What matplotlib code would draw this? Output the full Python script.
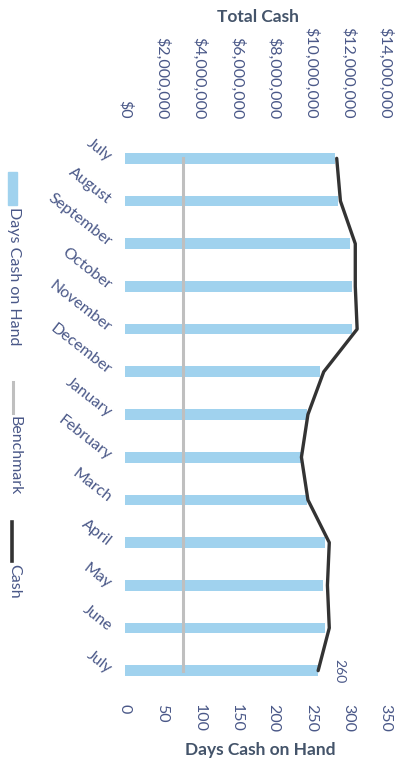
import matplotlib
matplotlib.use("Agg")
import matplotlib.pyplot as plt
from matplotlib.patches import Rectangle
from matplotlib.lines import Line2D

months = ["July", "August", "September", "October", "November", "December",
          "January", "February", "March", "April", "May", "June", "July"]
days_cash = [283, 287, 303, 306, 306, 262, 245, 238, 245, 269, 266, 269, 260]
benchmark = [78] * 13
cash = [11.4e6, 11.6e6, 12.4e6, 12.4e6, 12.5e6, 10.7e6, 9.85e6, 9.5e6,
        9.85e6, 11.0e6, 10.9e6, 11.0e6, 10.4e6]
days_ticks = [0, 50, 100, 150, 200, 250, 300, 350]
cash_ticks = [0, 2e6, 4e6, 6e6, 8e6, 10e6, 12e6, 14e6]
cash_tick_labels = ["$0", "$2,000,000", "$4,000,000", "$6,000,000", "$8,000,000",
                    "$10,000,000", "$12,000,000", "$14,000,000"]

plt.rcParams['font.family'] = ['Lato', 'DejaVu Sans']
TICK = '#4A5888'
TITLE = '#44546A'
BAR = '#A0D2EE'

W, H = 402, 760
fig = plt.figure(figsize=(W / 100, H / 100), dpi=100)
fig.patch.set_facecolor('white')

def fx(x):
    return x / W

def fy(y):
    return 1 - y / H

ax = fig.add_axes([fx(125), fy(692), fx(385) - fx(125), fy(137) - fy(692)])
pos = list(range(len(months)))
ax.barh(pos, days_cash, height=0.25, color=BAR, zorder=1)
ax.plot(benchmark, pos, color='#BFBFBF', lw=2.2, zorder=2)
ax.set_xlim(0, 350)
ax.set_ylim(len(months) - 0.5, -0.5)
ax.set_xticks(days_ticks)
ax.set_xticklabels([str(t) for t in days_ticks], rotation=-90, color=TICK, fontsize=11.5)
ax.set_yticks(pos)
ax.set_yticklabels(months, rotation=-38, ha='right', va='center',
                   rotation_mode='anchor', color=TICK, fontsize=11.5)
ax.tick_params(axis='both', length=0)
ax.tick_params(axis='x', pad=9)
ax.tick_params(axis='y', pad=11)
for s in ax.spines.values():
    s.set_visible(False)

ax.annotate(str(days_cash[-1]), xy=(days_cash[-1], pos[-1]), xytext=(11, 0),
            textcoords='offset points', rotation=-90, ha='left', va='center',
            color=TICK, fontsize=10)

ax2 = ax.twiny()
ax2.plot(cash, pos, color='#333333', lw=2.4, zorder=3, solid_capstyle='round')
ax2.set_xlim(0, 14e6)
ax2.set_ylim(len(months) - 0.5, -0.5)
ax2.set_xticks(cash_ticks)
ax2.set_xticklabels(cash_tick_labels, rotation=-90, color=TICK, fontsize=11.5)
ax2.tick_params(axis='x', length=0, pad=13)
for s in ax2.spines.values():
    s.set_visible(False)

fig.text(fx(258), fy(17), "Total Cash", ha='center', va='center',
         fontsize=12.5, fontweight='bold', color=TITLE)
fig.text(fx(260), fy(750), "Days Cash on Hand", ha='center', va='center',
         fontsize=12.5, fontweight='bold', color=TITLE)

# rotated legend on left
fig.patches.append(Rectangle((fx(8), fy(205)), fx(9), fy(172) - fy(205),
                             transform=fig.transFigure, color=BAR))
fig.text(fx(14), fy(207), "Days Cash on Hand", rotation=-90, ha='center', va='top',
         fontsize=11.5, color=TICK)
fig.lines.append(Line2D([fx(13), fx(13)], [fy(382), fy(413)], transform=fig.transFigure,
                        color='#BFBFBF', lw=2.2))
fig.text(fx(14), fy(416), "Benchmark", rotation=-90, ha='center', va='top',
         fontsize=11.5, color=TICK)
fig.lines.append(Line2D([fx(12), fx(12)], [fy(522), fy(561)], transform=fig.transFigure,
                        color='#333333', lw=2.6))
fig.text(fx(14), fy(564), "Cash", rotation=-90, ha='center', va='top',
         fontsize=11.5, color=TICK)

fig.savefig("out.png", dpi=100, facecolor='white')
